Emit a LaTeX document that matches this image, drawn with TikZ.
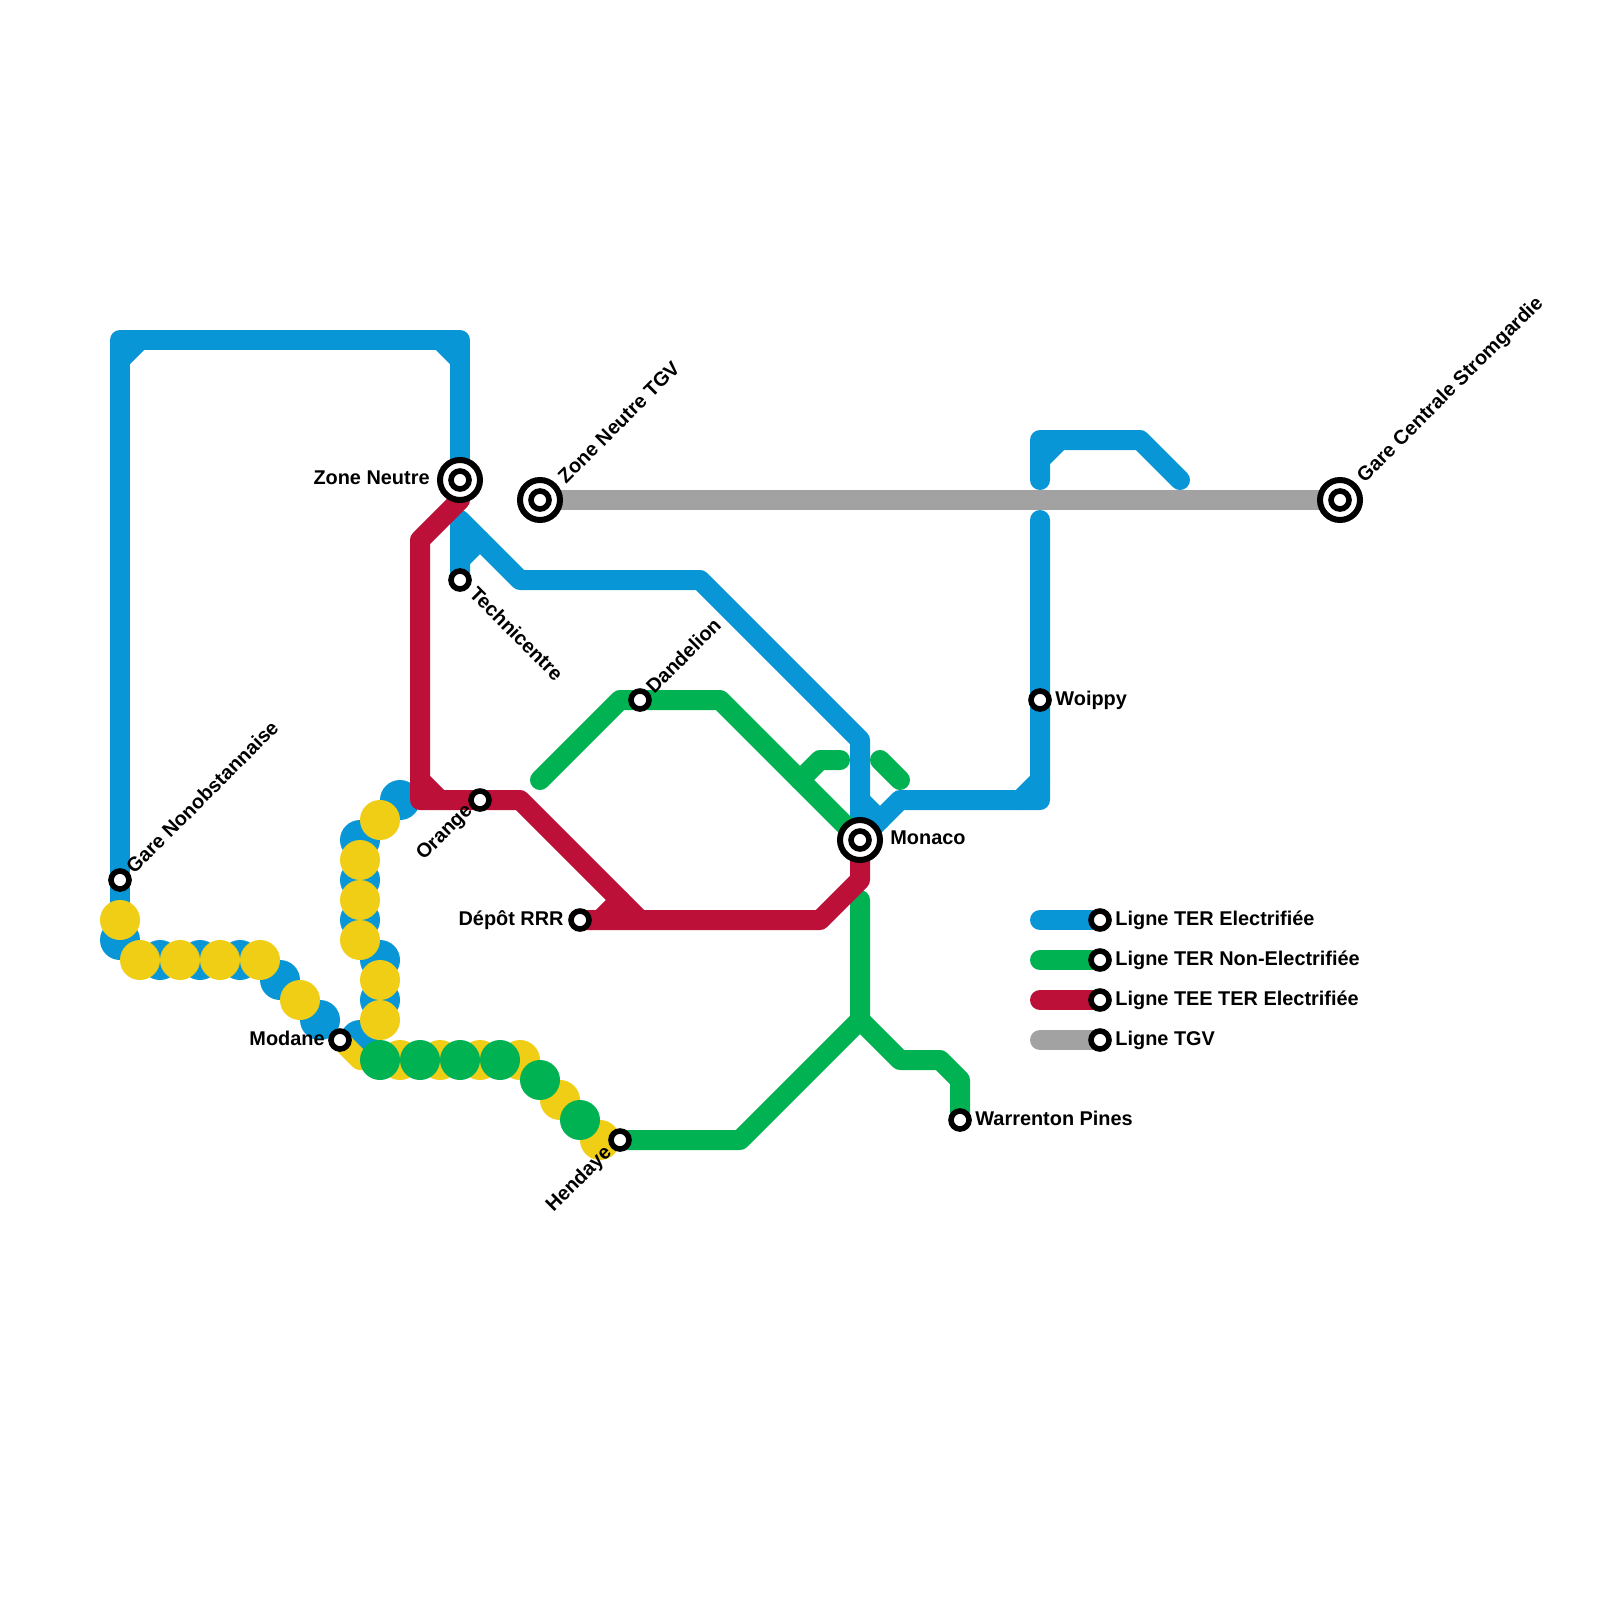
\documentclass[tikz,border=0pt]{standalone}
\usepackage{fontspec}
\setmainfont{Liberation Sans}
\usetikzlibrary{positioning,backgrounds}

\definecolor{terblue}{HTML}{0896D7}
\definecolor{nongreen}{HTML}{00B251}
\definecolor{teered}{HTML}{BD1038}
\definecolor{tgvgrey}{HTML}{A2A2A2}
\definecolor{dotyellow}{HTML}{F0CE15}

\begin{document}
\begin{tikzpicture}[
    x=0.5pt, y=-0.5pt,
    node distance=3pt,
    % ---- styles -------------------------------------------------
    stn/.style={circle, draw=black, fill=white, line width=2.8pt,
        minimum size=9pt, inner sep=0pt, outer sep=0pt},
    hub/.style={stn, minimum size=20pt, line width=3pt,
        path picture={\draw[black, line width=2.8pt] (path picture bounding box.center) circle (4.5pt);}},
    lbl/.style={inner sep=0pt, font=\bfseries\fontsize{9.95}{12}\selectfont},
    track/.style={line width=10pt, line cap=round, line join=round},
    ter/.style={track, draw=terblue},
    non/.style={track, draw=nongreen},
    tee/.style={track, draw=teered},
    tgv/.style={track, draw=tgvgrey},
    yel/.style={track, draw=dotyellow},
]
\useasboundingbox (0,0) rectangle (1600,1600);

% =================== stations =================================
\node[stn] (nonob)   at (120,880)  {};
\node[hub] (neutre)  at (460,480)  {};
\node[hub] (neutgv)  at (540,500)  {};
\node[hub] (centrale) at (1340,500) {};
\node[hub] (monaco)  at (860,840)  {};
\node[stn] (techni)  at (460,580)  {};
\node[stn] (dandel)  at (640,700)  {};
\node[stn] (woippy)  at (1040,700) {};
\node[stn] (orange)  at (480,800)  {};
\node[stn] (depot)   at (580,920)  {};
\node[stn] (modane)  at (340,1040) {};
\node[stn] (hendaye) at (620,1140) {};
\node[stn] (warren)  at (960,1120) {};

% =================== legend stations ==========================
\node[stn] (legter) at (1100,920)  {};
\node[stn] (legnon) at (1100,960)  {};
\node[stn] (legtee) at (1100,1000) {};
\node[stn] (legtgv) at (1100,1040) {};

\begin{scope}[on background layer]
% =================== TGV ======================================
\draw[tgv] (neutgv.center) -- (centrale.center);

% =================== TER electrified ==========================
\draw[ter] (nonob.center) -- (120,340) -- (460,340) -- (neutre.center);
\draw[ter] (nonob.center) -- (120,940);
\draw[ter] (120,360) -- (140,340);
\draw[ter] (440,340) -- (460,360);
\draw[ter] (techni.center) -- (460,520) -- (520,580) -- (700,580) -- (860,740) -- (monaco.center);
\draw[ter] (460,560) -- (480,540);
\draw[ter] (monaco.center) -- (900,800) -- (1040,800) -- (woippy.center) -- (1040,520);
\draw[ter] (860,800) -- (880,820);
\draw[ter] (1020,800) -- (1040,780);
\draw[ter] (1040,480) -- (1040,440) -- (1140,440) -- (1180,480);
\draw[ter] (1040,460) -- (1060,440);
\foreach \x/\y in {120/940,160/960,200/960,240/960,280/980,320/1020,360/1040,
    380/1000,380/960,360/920,360/880,360/840,400/800}
    \fill[terblue] (\x,\y) circle (10pt);

% =================== non electrified ==========================
\draw[non] (540,780) -- (620,700) -- (dandel.center) -- (720,700) -- (monaco.center);
\draw[non] (800,780) -- (820,760) -- (840,760);
\draw[non] (880,760) -- (900,780);
\draw[non] (860,900) -- (860,1020) -- (740,1140) -- (hendaye.center);
\draw[non] (860,1020) -- (900,1060) -- (940,1060) -- (960,1080) -- (warren.center);

% =================== TEE ======================================
\draw[tee] (neutre.center) -- (460,500) -- (420,540) -- (420,800) -- (orange.center) -- (520,800) -- (640,920);
\draw[tee] (420,780) -- (440,800);
\draw[tee] (depot.center) -- (820,920) -- (860,880) -- (monaco.center);
\draw[tee] (600,920) -- (620,900);

% =================== dotted line ==============================
\draw[yel] (modane.center) -- (360,1060) -- (380,1060);
\foreach \x/\y in {120/920,140/960,180/960,220/960,260/960,300/1000,380/1020,380/980,
    360/940,360/900,360/860,380/820,400/1060,440/1060,480/1060,520/1060,560/1100,600/1140}
    \fill[dotyellow] (\x,\y) circle (10pt);
\foreach \x/\y in {380/1060,420/1060,460/1060,500/1060,540/1080,580/1120}
    \fill[nongreen] (\x,\y) circle (10pt);

% =================== legend lines =============================
\draw[ter] (1040,920)  -- (legter.center);
\draw[non] (1040,960)  -- (legnon.center);
\draw[tee] (1040,1000) -- (legtee.center);
\draw[tgv] (1040,1040) -- (legtgv.center);
\end{scope}

% =================== labels ===================================
\node[lbl, left=5pt of neutre, yshift=1pt] (lneutre) {Zone Neutre};
\node[lbl, right=5pt of monaco, yshift=1pt] (lmonaco) {Monaco};
\node[lbl, right=of woippy] (lwoippy) {Woippy};
\node[lbl, left=3.5pt of depot] (ldepot) {Dépôt RRR};
\node[lbl, left=of modane, yshift=1pt] (lmodane) {Modane};
\node[lbl, right=of warren, yshift=1pt] (lwarren) {Warrenton Pines};
\node[lbl, right=of legter] (lter) {Ligne TER Electrifiée};
\node[lbl, right=of legnon] (lnon) {Ligne TER Non-Electrifiée};
\node[lbl, right=of legtee] (ltee) {Ligne TEE TER Electrifiée};
\node[lbl, right=of legtgv] (ltgv) {Ligne TGV};

\node[lbl, rotate=45, anchor=west] (lnonob) at ([shift={(9,-10)}]nonob.center) {Gare Nonobstannaise};
\node[lbl, rotate=45, anchor=west] (lneutgv) at ([shift={(21,-20)}]neutgv.center) {Zone Neutre TGV};
\node[lbl, rotate=45, anchor=west] (lcentrale) at ([shift={(21,-20)}]centrale.center) {Gare Centrale Stromgardie};
\node[lbl, rotate=45, anchor=west] (ldandel) at ([shift={(9,-10)}]dandel.center) {Dandelion};
\node[lbl, rotate=-45, anchor=west] (ltechni) at ([shift={(13,10)}]techni.center) {Technicentre};
\node[lbl, rotate=45, anchor=east] (lorange) at ([shift={(-10,8)}]orange.center) {Orange};
\node[lbl, rotate=45, anchor=east] (lhendaye) at ([shift={(-11,10)}]hendaye.center) {Hendaye};

\end{tikzpicture}
\end{document}
